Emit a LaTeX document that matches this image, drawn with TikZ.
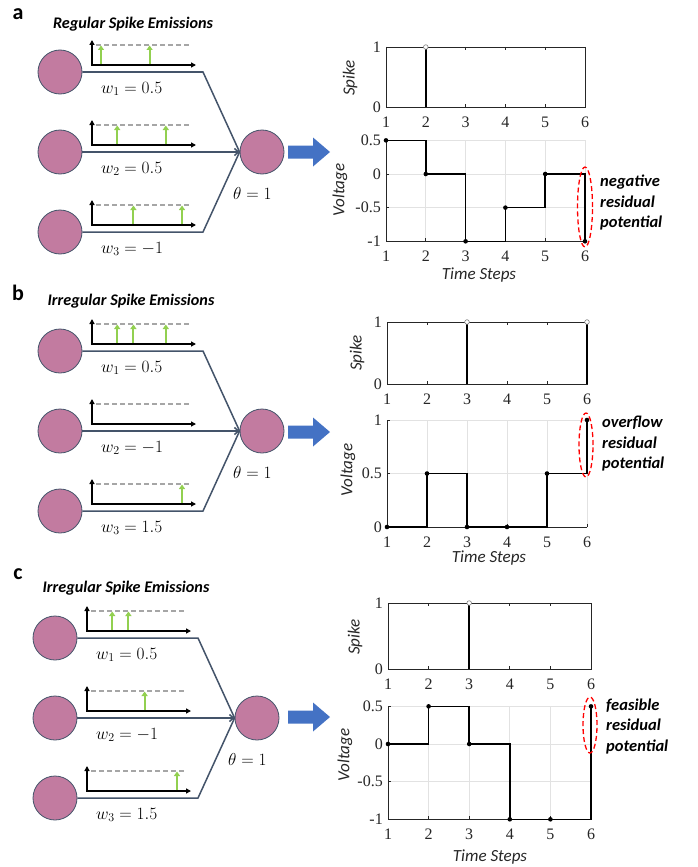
\documentclass[tikz,border=0pt]{standalone}
\usepackage{fontspec}
\setmainfont{Liberation Serif}
\newfontfamily\carl{Carlito}
\newfontfamily\tnr{Liberation Serif}
\usetikzlibrary{arrows.meta}
\definecolor{neuronc}{HTML}{C27BA0}
\definecolor{edgec}{HTML}{44546A}
\definecolor{spkc}{HTML}{92D050}
\definecolor{blkc}{HTML}{4472C4}
\definecolor{axc}{HTML}{262626}
\definecolor{gridc}{HTML}{E2E2E2}
\definecolor{dashc}{HTML}{A6A6A6}
\tikzset{
 neuronnode/.style={circle, fill=neuronc, draw=edgec, line width=0.8pt, minimum size=44pt, inner sep=0pt},
 conn/.style={draw=edgec, line width=1.5pt},
 miniax/.style={line width=1.6pt, {Triangle[length=5pt,width=5pt]}-{Triangle[length=5pt,width=5pt]}},
 dashl/.style={draw=dashc, line width=1.1pt, dash pattern=on 5pt off 3pt},
 spkarrow/.style={draw=spkc, line width=2pt, -{Triangle[length=4.5pt,width=6pt]}},
 wlabel/.style={font=\fontsize{17.28}{20}\selectfont, inner sep=0pt, anchor=west},
 titlet/.style={font=\carl\bfseries\itshape\fontsize{16.2}{18}\selectfont, inner sep=0pt},
 letter/.style={font=\carl\bfseries\fontsize{22}{24}\selectfont, inner sep=0pt},
 axline/.style={draw=axc, line width=0.8pt},
 gridl/.style={draw=gridc, line width=0.7pt},
 ticklab/.style={font=\tnr\fontsize{16}{17}\selectfont, text=axc, inner sep=0pt},
 axlab/.style={font=\carl\itshape\fontsize{17}{19}\selectfont, text=axc, inner sep=0pt},
 stairs/.style={draw=black, line width=1.5pt},
 sidetext/.style={font=\carl\bfseries\itshape\fontsize{16.5}{20.5}\selectfont, align=left, inner sep=0pt, anchor=west},
 redell/.style={draw=red, line width=1.3pt, dash pattern=on 5pt off 3pt},
 bluearrow/.style={fill=blkc, draw=none},
}
% one input row of the network
\newcommand{\minirow}[4]{%
  \node[neuronnode] (#1) at (60,#2) {};
  \draw[dashl] (96,{#2-27}) -- (190,{#2-27});
  \draw[miniax] (92,{#2-32}) -- (92,{#2-7}) -- (196,{#2-7});
  \foreach \t in {#4}{\ifnum\t>0 \draw[spkarrow] ({84.8+16.2*\t},{#2-7.8}) -- ({84.8+16.2*\t},{#2-26.5});\fi}
  \node[wlabel] (#1w) at (101,{#2+17}) {#3};
}
\newcommand{\snnpanel}[8]{%
 \begin{scope}[#2]
  \minirow{#1i1}{72}{#3}{#6}
  \minirow{#1i2}{152}{#4}{#7}
  \minirow{#1i3}{232}{#5}{#8}
  \node[neuronnode] (#1out) at (262,152) {};
  \draw[conn] (#1i1.east) -- (203,72) -- (#1out.west);
  \draw[conn, -{Straight Barb[length=4pt,width=7pt]}] (#1i2.east) -- (#1out.west);
  \draw[conn] (#1i3.east) -- (203,232) -- (#1out.west);
  \node[wlabel] (#1theta) at (233,193) {$\theta = 1$};
 \end{scope}
}
\newcommand{\bluearr}[1]{%
  \fill[bluearrow] (288,{#1-6.5}) -- (313,{#1-6.5}) -- (313,{#1-14.5}) -- (330,#1) -- (313,{#1+14.5}) -- (313,{#1+6.5}) -- (288,{#1+6.5}) -- cycle;
}
\newcommand{\spikeplot}[6]{%
 \begin{scope}[xshift=#2pt, yshift=-#3pt, x=#4pt, y=#5pt]
  \draw[axline] (0,0) rectangle (5,1);
  \foreach \u [evaluate=\u as \l using int(\u+1)] in {0,...,5}{
    \draw[axline] (\u,0) -- ++(0,3pt);
    \draw[axline] (\u,1) -- ++(0,-3pt);
    \node[ticklab, yshift=-15pt] (#1sx\u) at (\u,0) {\l};
  }
  \node[ticklab, anchor=east, xshift=-5pt] (#1sy0) at (0,0) {0};
  \node[ticklab, anchor=east, xshift=-5pt] (#1sy1) at (0,1) {1};
  \foreach \u in {#6}{
    \draw[line width=1.5pt] (\u,0) -- (\u,1);
    \draw[draw=gray, line width=0.6pt, fill=white] (\u,1) circle (2.3pt);
  }
 \end{scope}
}
\newcommand{\voltframe}[4]{%
  \foreach \u in {1,...,5} \draw[gridl] (\u,#2) -- (\u,#3);
  \foreach \v/\lab [count=\k] in {#4}{
    \draw[gridl] (0,\v) -- (5,\v);
    \draw[axline] (0,\v) -- ++(3pt,0);
    \node[ticklab, anchor=east, xshift=-5pt] (#1vy\k) at (0,\v) {\lab};
  }
  \draw[axline] (0,#3) -- (0,#2) -- (5,#2);
  \foreach \u [evaluate=\u as \l using int(\u+1)] in {0,...,5}{
    \draw[axline] (\u,#2) -- ++(0,3pt);
    \node[ticklab, yshift=-15pt] (#1vx\u) at (\u,#2) {\l};
  }
}
\begin{document}
\begin{tikzpicture}[x=1pt,y=-1pt]
\useasboundingbox[fill=white] (0,0) rectangle (697,867);

% ---------- panel letters and titles
\node[letter] (la) at (18,14) {a};
\node[letter] (lb) at (18,293) {b};
\node[letter] (lc) at (18,574) {c};
\node[titlet] (ta) at (133,24) {Regular Spike Emissions};
\node[titlet] (tb) at (131,301) {Irregular Spike Emissions};
\node[titlet] (tc) at (126,588) {Irregular Spike Emissions};

% ---------- networks
\snnpanel{a}{}{$w_1 = 0.5$}{$w_2 = 0.5$}{$w_3 = -1$}{1,4}{2,5}{3,6}
\snnpanel{b}{yshift=-279pt}{$w_1 = 0.5$}{$w_2 = -1$}{$w_3 = 1.5$}{2,3,5}{0}{6}
\snnpanel{c}{xshift=-5pt,yshift=-566pt}{$w_1 = 0.5$}{$w_2 = -1$}{$w_3 = 1.5$}{2,3}{4}{6}

\bluearr{152}
\bluearr{432}
\bluearr{717}

% ---------- panel a plots
\spikeplot{a}{386}{107}{39.8}{60}{1}
\begin{scope}[xshift=386pt, yshift=-174pt, x=39.8pt, y=67.3pt]
 \voltframe{a}{-1}{0.5}{-1/-1,-0.5/-0.5,0/0,0.5/0.5}
 \draw[stairs] (0,0.5) -| (1,0) -| (2,-1) -| (3,-0.5) -| (4,0) -| (5,-1);
 \foreach \p in {(0,0.5),(1,0),(2,-1),(3,-0.5),(4,0),(5,-1)} \fill \p circle (2.3pt);
\end{scope}
\node[axlab, rotate=90] (aspk) at (350,78) {Spike};
\node[axlab, rotate=90] (avol) at (340,190) {Voltage};
\node[axlab] (atime) at (479,275) {Time Steps};
\draw[redell] (585,207) ellipse [x radius=7.5pt, y radius=40pt];
\node[sidetext] (anote) at (600,203) {negative\\residual\\potential};

% ---------- panel b plots
\spikeplot{b}{387}{384}{40}{62}{2,5}
\begin{scope}[xshift=387pt, yshift=-527pt, x=40pt, y=107pt]
 \voltframe{b}{0}{1}{0/0,0.5/0.5,1/1}
 \draw[stairs] (0,0) -| (1,0.5) -| (2,0) -| (3,0) -| (4,0.5) -| (5,1);
 \foreach \p in {(0,0),(1,0.5),(2,0),(3,0),(4,0.5),(5,1)} \fill \p circle (2.3pt);
\end{scope}
\node[axlab, rotate=90] (bspk) at (357,353) {Spike};
\node[axlab, rotate=90] (bvol) at (348,470) {Voltage};
\node[axlab] (btime) at (489,558) {Time Steps};
\draw[redell] (586,445) ellipse [x radius=7pt, y radius=32pt];
\node[sidetext] (bnote) at (602,444) {overflow\\residual\\potential};

% ---------- panel c plots
\spikeplot{c}{388}{669}{40.6}{66}{2}
\begin{scope}[xshift=388pt, yshift=-744pt, x=40.6pt, y=75.3pt]
 \voltframe{c}{-1}{0.5}{-1/-1,-0.5/-0.5,0/0,0.5/0.5}
 \draw[stairs] (0,0) -| (1,0.5) -| (2,0) -| (3,-1) -| (4,-1) -| (5,0.5);
 \foreach \p in {(0,0),(1,0.5),(2,0),(3,-1),(4,-1),(5,0.5)} \fill \p circle (2.3pt);
\end{scope}
\node[axlab, rotate=90] (cspk) at (355,637) {Spike};
\node[axlab, rotate=90] (cvol) at (345,755) {Voltage};
\node[axlab] (ctime) at (490,857) {Time Steps};
\draw[redell] (590,725) ellipse [x radius=7pt, y radius=28pt];
\node[sidetext] (cnote) at (606,726) {feasible\\residual\\potential};
\end{tikzpicture}
\end{document}
